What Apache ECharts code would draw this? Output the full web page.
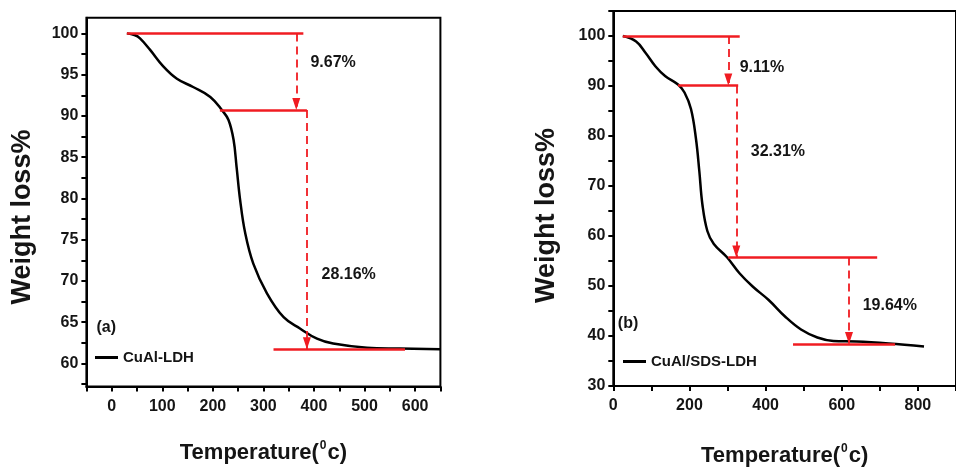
<!DOCTYPE html>
<html><head><meta charset="utf-8">
<script src="https://cdn.jsdelivr.net/npm/echarts@6/dist/echarts.min.js"></script>
<style>html,body{margin:0;padding:0;background:#fff}#c{width:956px;height:472px}</style>
</head><body><div id="c"></div>
<script>
// ---- Panel (a): CuAl-LDH ----
const tempA   = [30, 45, 56, 76, 102, 129, 161, 195, 218, 231, 241, 247, 254, 264, 280, 307, 340, 373, 406, 438, 505, 570, 650];
const weightA = [100, 99.8, 99.4, 98.0, 96.0, 94.5, 93.5, 92.3, 90.7, 89.5, 87.1, 83.8, 79.8, 75.8, 72.1, 68.5, 65.6, 64.2, 63.0, 62.4, 61.9, 61.8, 61.7];
const levelA      = [100, 90.7, 61.7];
const levelFromA  = [30, 214, 320];
const levelToA    = [379, 386, 580];
const arrowXA     = [365, 386];
const arrowTopA   = [100, 90.7];
const arrowBotA   = [90.7, 61.7];
const lossTextA   = ['9.67%', '28.16%'];
const lossXA      = [393, 415];
const lossYA      = [96.4, 70.8];
const tagA = '(a)'; const tagXA = -30; const tagYA = 64.3;
const xLabelsA = [0, 100, 200, 300, 400, 500, 600];
const xTicksA  = [-50, 0, 50, 100, 150, 200, 250, 300, 350, 400, 450, 500, 550, 600, 650];
const yLabelsA = [60, 65, 70, 75, 80, 85, 90, 95, 100];
const yTicksA  = [57.5, 60, 62.5, 65, 67.5, 70, 72.5, 75, 77.5, 80, 82.5, 85, 87.5, 90, 92.5, 95, 97.5, 100];

// ---- Panel (b): CuAl/SDS-LDH ----
const tempB   = [25, 60, 85, 111, 136, 170, 187, 204, 217, 226, 234, 247, 264, 298, 332, 366, 408, 451, 493, 536, 578, 638, 723, 816];
const weightB = [100, 98.9, 96.6, 93.9, 92.0, 90.3, 88.7, 85.4, 79.5, 72.9, 66.3, 61.0, 58.4, 55.8, 52.5, 49.9, 47.2, 43.9, 41.3, 39.7, 39.0, 38.9, 38.5, 37.9];
const levelB      = [100, 90.1, 55.7, 38.4];
const levelFromB  = [25, 170, 302, 472];
const levelToB    = [332, 328, 693, 740];
const arrowXB     = [302, 323, 619];
const arrowTopB   = [100, 90.1, 55.7];
const arrowBotB   = [90.1, 55.7, 38.4];
const lossTextB   = ['9.11%', '32.31%', '19.64%'];
const lossXB      = [332, 361, 655];
const lossYB      = [93.7, 76.9, 46.0];
const tagB = '(b)'; const tagXB = 12; const tagYB = 42.4;
const xLabelsB = [0, 200, 400, 600, 800];
const xTicksB  = [0, 100, 200, 300, 400, 500, 600, 700, 800, 900];
const yLabelsB = [30, 40, 50, 60, 70, 80, 90, 100];
const yTicksB  = [30, 35, 40, 45, 50, 55, 60, 65, 70, 75, 80, 85, 90, 95, 100, 105];

const FONT = 'Liberation Sans';
const RED = '#f01c22';
const TXT = '#151515';
const axisNameX = {
  name: '{a|Temperature(}{s|0}{a|c)}',
  nameLocation: 'middle',
  nameTextStyle: { rich: {
    a: { fontFamily: FONT, fontWeight: 'bold', fontSize: 22, color: TXT, lineHeight: 26 },
    s: { fontFamily: FONT, fontWeight: 'bold', fontSize: 12, color: TXT, verticalAlign: 'top', lineHeight: 26, padding: [0, 1, 12, 1] }
  } }
};
function xAxis(gi, min, max, labels, ticks, gap) {
  return Object.assign({
    type: 'value', gridIndex: gi, min: min, max: max, nameGap: gap,
    splitLine: { show: false },
    axisLine: { show: true, onZero: false, lineStyle: { color: '#000', width: 2 } },
    axisTick: { show: true, inside: false, length: 5, customValues: ticks, lineStyle: { color: '#000', width: 2 } },
    axisLabel: { customValues: labels, margin: 12, fontFamily: FONT, fontWeight: 'bold', fontSize: 16, color: TXT }
  }, axisNameX);
}
function yAxis(gi, min, max, labels, ticks, gap, shift) {
  return {
    type: 'value', gridIndex: gi, min: min, max: max,
    name: 'Weight loss%', nameLocation: 'middle', nameGap: gap, nameRotate: 90,
    nameTextStyle: { fontFamily: FONT, fontWeight: 'bold', fontSize: 27, color: TXT, padding: [0, shift, 0, 0] },
    splitLine: { show: false },
    axisLine: { show: true, onZero: false, lineStyle: { color: '#000', width: 2 } },
    axisTick: { show: true, inside: false, length: 5, customValues: ticks, lineStyle: { color: '#000', width: 2 } },
    axisLabel: { customValues: labels, margin: 8, fontFamily: FONT, fontWeight: 'bold', fontSize: 16, color: TXT }
  };
}
function levelLines(lv, from, to) {
  return lv.map((y, i) => [{ coord: [from[i], y] }, { coord: [to[i], y] }]);
}
function arrowLines(xs, top, bot) {
  return xs.map((x, i) => [{ coord: [x, top[i]] }, { coord: [x, bot[i]] }]);
}
function annot(gi, lv, from, to, ax, at, ab, texts, tx, ty, tag, tagX, tagY) {
  const pts = texts.map((t, i) => ({ name: t, value: [tx[i], ty[i]] }));
  pts.push({ name: tag, value: [tagX, tagY] });
  return [
    { type: 'line', xAxisIndex: gi, yAxisIndex: gi, data: [], z: 4, silent: true,
      markLine: { silent: true, symbol: 'none', animation: false, label: { show: false },
        lineStyle: { color: RED, width: 2.5, type: 'solid' }, emphasis: { disabled: true },
        data: levelLines(lv, from, to) } },
    { type: 'line', xAxisIndex: gi, yAxisIndex: gi, data: [], z: 4, silent: true,
      markLine: { silent: true, symbol: ['none', 'triangle'], symbolSize: [8, 12], symbolOffset: [0, [0, 6]],
        animation: false, label: { show: false },
        lineStyle: { color: RED, width: 1.8, type: [8, 5] }, emphasis: { disabled: true },
        data: arrowLines(ax, at, ab) } },
    { type: 'scatter', xAxisIndex: gi, yAxisIndex: gi, symbolSize: 0, silent: true, data: pts, z: 5,
      itemStyle: { opacity: 1 },
      label: { show: true, position: 'right', distance: 0, formatter: '{b}', fontFamily: FONT,
        fontWeight: 'bold', fontSize: 16, color: TXT, opacity: 1 } }
  ];
}

const chart = echarts.init(document.getElementById('c'), null, { renderer: 'canvas' });
chart.setOption({
  animation: false,
  backgroundColor: '#fff',
  grid: [
    { left: 86.4, top: 17.7, width: 354, height: 368.8, show: true, borderColor: '#000', borderWidth: 2, containLabel: false },
    { left: 613.3, top: 11, width: 352.8, height: 380.3, show: true, borderColor: '#000', borderWidth: 2, containLabel: false }
  ],
  xAxis: [ xAxis(0, -50, 650, xLabelsA, xTicksA, 53), xAxis(1, 0, 900, xLabelsB, xTicksB, 57) ],
  yAxis: [ yAxis(0, 57.2, 101.9, yLabelsA, yTicksA, 50, 30), yAxis(1, 30, 105, yLabelsB, yTicksB, 53, 34) ],
  legend: [
    { data: ['CuAl-LDH'], left: 90, top: 345, icon: 'rect', itemWidth: 23, itemHeight: 3, itemGap: 5,
      textStyle: { fontFamily: FONT, fontWeight: 'bold', fontSize: 15, color: TXT }, selectedMode: false },
    { data: ['CuAl/SDS-LDH'], left: 618, top: 349, icon: 'rect', itemWidth: 23, itemHeight: 3, itemGap: 5,
      textStyle: { fontFamily: FONT, fontWeight: 'bold', fontSize: 15, color: TXT }, selectedMode: false }
  ],
  series: [
    { name: 'CuAl-LDH', type: 'line', xAxisIndex: 0, yAxisIndex: 0, smooth: 0.4, showSymbol: false, z: 3,
      color: '#000', lineStyle: { color: '#000', width: 2.5 }, data: tempA.map((t, i) => [t, weightA[i]]) },
    { name: 'CuAl/SDS-LDH', type: 'line', xAxisIndex: 1, yAxisIndex: 1, smooth: 0.4, showSymbol: false, z: 3,
      color: '#000', lineStyle: { color: '#000', width: 2.5 }, data: tempB.map((t, i) => [t, weightB[i]]) }
  ].concat(
    annot(0, levelA, levelFromA, levelToA, arrowXA, arrowTopA, arrowBotA, lossTextA, lossXA, lossYA, tagA, tagXA, tagYA),
    annot(1, levelB, levelFromB, levelToB, arrowXB, arrowTopB, arrowBotB, lossTextB, lossXB, lossYB, tagB, tagXB, tagYB)
  )
});
</script></body></html>
